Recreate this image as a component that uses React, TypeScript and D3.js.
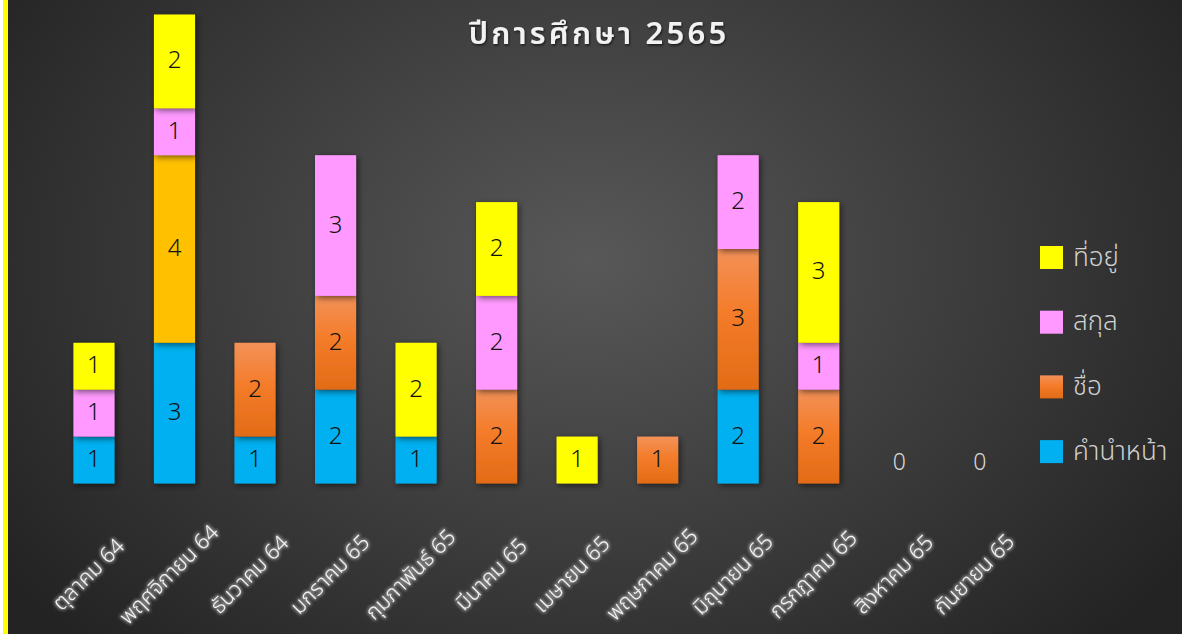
import React from "react";
import * as d3 from "d3";

const categories = [
  "ตุลาคม 64", "พฤศจิกายน 64", "ธันวาคม 64", "มกราคม 65", "กุมภาพันธ์ 65", "มีนาคม 65",
  "เมษายน 65", "พฤษภาคม 65", "มิถุนายน 65", "กรกฎาคม 65", "สิงหาคม 65", "กันยายน 65",
];
const seriesNames = ["คำนำหน้า", "ชื่อ", "สกุล", "ที่อยู่"];
const prefixValues = [1, 3, 1, 2, 1, 0, 0, 0, 2, 0, 0, 0];
const firstNameValues = [0, 4, 2, 2, 0, 2, 0, 1, 3, 2, 0, 0];
const surnameValues = [1, 1, 0, 3, 0, 2, 0, 0, 2, 1, 0, 0];
const addressValues = [1, 2, 0, 0, 2, 2, 1, 0, 0, 3, 0, 0];
const title = "ปีการศึกษา 2565";

const seriesFill: Record<string, string> = {
  "คำนำหน้า": "#00B0F0",
  "ชื่อ": "url(#orangeGrad)",
  "สกุล": "#FF99FF",
  "ที่อยู่": "#FFFF00",
};
// point override: ชื่อ in พฤศจิกายน 64 is gold
const pointOverride: Record<string, string> = { "ชื่อ|พฤศจิกายน 64": "#FFC000" };

const W = 1182;
const H = 634;
const FONT = "'Noto Sans Thai', 'Leelawadee UI', Tahoma, 'Noto Sans', 'DejaVu Sans', sans-serif";

export default function App() {
  const rows = categories.map((c, i) => ({
    cat: c,
    "คำนำหน้า": prefixValues[i],
    "ชื่อ": firstNameValues[i],
    "สกุล": surnameValues[i],
    "ที่อยู่": addressValues[i],
  }));
  const stack = d3.stack<any>().keys(seriesNames);
  const stacked = stack(rows);

  const x = d3.scaleBand<string>().domain(categories).range([53.7, 1020]).paddingInner(0.49).paddingOuter(0.245);
  const y = d3.scaleLinear().domain([0, 10]).range([483.5, 14.5]);
  const bw = x.bandwidth();

  const legendItems = [...seriesNames].reverse();

  return (
    <svg width={W} height={H} style={{ position: "absolute", left: 0, top: 0, display: "block" }} fontFamily={FONT}>
      <defs>
        <radialGradient id="bgGrad" cx="590" cy="260" r="720" gradientUnits="userSpaceOnUse" gradientTransform="translate(590 260) scale(1 0.75) translate(-590 -260)">
          <stop offset="0" stopColor="#585858" />
          <stop offset="0.55" stopColor="#3b3b3b" />
          <stop offset="1" stopColor="#232323" />
        </radialGradient>
        <linearGradient id="orangeGrad" x1="0" y1="0" x2="0" y2="1">
          <stop offset="0" stopColor="#F39158" />
          <stop offset="0.45" stopColor="#F47C2A" />
          <stop offset="1" stopColor="#E26B16" />
        </linearGradient>
        <filter id="barShadow" x="-30%" y="-10%" width="160%" height="130%">
          <feDropShadow dx="2" dy="2" stdDeviation="3" floodColor="#000" floodOpacity="0.55" />
        </filter>
        <filter id="glow" x="-20%" y="-40%" width="140%" height="180%">
          <feMorphology in="SourceAlpha" operator="dilate" radius="1.2" result="d" />
          <feGaussianBlur in="d" stdDeviation="1.8" result="b" />
          <feFlood floodColor="#b8b8b8" floodOpacity="0.65" />
          <feComposite in2="b" operator="in" result="g" />
          <feMerge>
            <feMergeNode in="g" />
            <feMergeNode in="SourceGraphic" />
          </feMerge>
        </filter>
        <filter id="titleShadow" x="-10%" y="-30%" width="120%" height="160%">
          <feDropShadow dx="1" dy="1.5" stdDeviation="1.2" floodColor="#000" floodOpacity="0.6" />
        </filter>
      </defs>
      <rect x={0} y={0} width={W} height={H} fill="#ffffff" />
      <rect x={3} y={0} width={5} height={H} fill="#FFFF00" />
      <rect x={8} y={0} width={W - 8} height={H} fill="url(#bgGrad)" />

      <text x={599} y={44} textAnchor="middle" fontSize={31} fontWeight={600} letterSpacing={3.2} fill="#f2f2f2" filter="url(#titleShadow)">
        {title}
      </text>

      <g>
        {stacked.map((s) =>
          s.map((d, i) => {
            const v = d[1] - d[0];
            if (v <= 0) return null;
            const cat = categories[i];
            const fill = pointOverride[`${s.key}|${cat}`] || seriesFill[s.key];
            return (
              <rect key={s.key + i} x={x(cat)} y={y(d[1])} width={bw} height={y(d[0]) - y(d[1])} fill={fill} filter="url(#barShadow)" />
            );
          })
        )}
      </g>
      <g>
        {stacked.map((s) =>
          s.map((d, i) => {
            const v = d[1] - d[0];
            if (v <= 0) return null;
            const cat = categories[i];
            return (
              <text key={"l" + s.key + i} x={(x(cat) as number) + bw / 2} y={(y(d[0]) + y(d[1])) / 2} textAnchor="middle" dominantBaseline="central" fontSize={24} fontWeight={300} fill="#111">
                {v}
              </text>
            );
          })
        )}
        {categories.map((c, i) => {
          const total = prefixValues[i] + firstNameValues[i] + surnameValues[i] + addressValues[i];
          if (total !== 0) return null;
          return (
            <text key={"z" + i} x={(x(c) as number) + bw / 2} y={y(0) - 21} textAnchor="middle" dominantBaseline="central" fontSize={23} fontWeight={300} fill="#d9d9d9">
              0
            </text>
          );
        })}
      </g>

      <g filter="url(#glow)">
        {categories.map((c) => {
          const cx = (x(c) as number) + bw / 2 - 5;
          const cy = 575;
          return (
            <text key={"c" + c} x={cx} y={cy} textAnchor="middle" dominantBaseline="central" fontSize={21.5} fontWeight={300} fill="#f4f4f4" transform={`rotate(-45 ${cx} ${cy})`}>
              {c}
            </text>
          );
        })}
      </g>

      <g>
        {legendItems.map((k, i) => {
          const ly = 246 + i * 64.7;
          return (
            <g key={"lg" + k}>
              <rect x={1040} y={ly} width={23} height={23} fill={seriesFill[k]} />
              <text x={1073} y={ly + 11.5} dominantBaseline="central" fontSize={26} fontWeight={300} fill="#d0d0d0">
                {k}
              </text>
            </g>
          );
        })}
      </g>
    </svg>
  );
}
